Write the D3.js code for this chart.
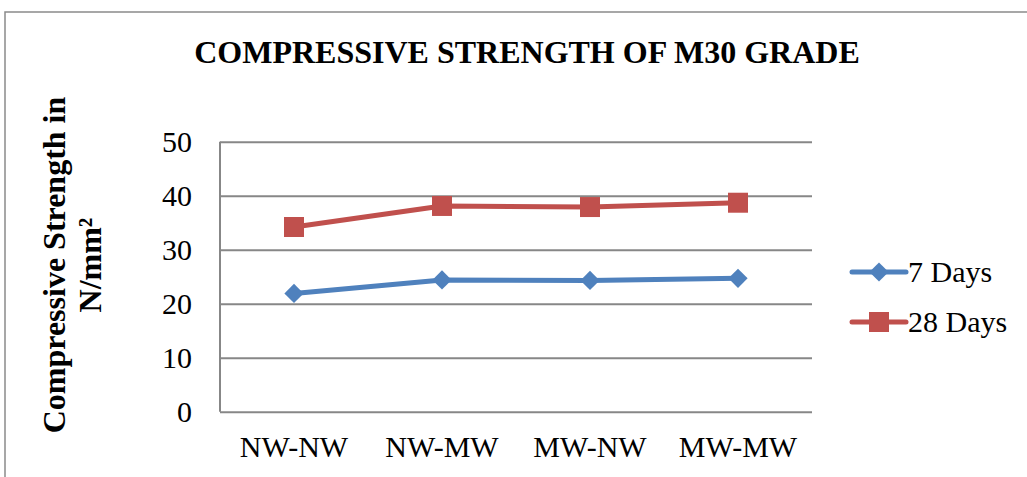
<!DOCTYPE html>
<html>
<head>
<meta charset="utf-8">
<script src="https://cdn.jsdelivr.net/npm/d3@7"></script>
<style>
  html, body { margin: 0; padding: 0; background: #fff; }
  svg { display: block; }
  text { font-family: "Liberation Serif", "Times New Roman", serif; fill: #000; }
</style>
</head>
<body>
<svg id="chart" width="1027" height="477"></svg>
<script>
// Mix combinations tested for M30 grade concrete
const categories = ["NW-NW", "NW-MW", "MW-NW", "MW-MW"];
// Compressive strength (N/mm²)
const days7 = [21.9, 24.4, 24.3, 24.7];
const days28 = [34.2, 38.1, 37.9, 38.7];
const yTicks = [0, 10, 20, 30, 40, 50];
const seriesNames = ["7 Days", "28 Days"];

const svg = d3.select("#chart");
const W = 1027, H = 477;

// outer chart frame
svg.append("rect")
  .attr("x", 5).attr("y", 12)
  .attr("width", W + 10).attr("height", H + 10)
  .attr("fill", "#fff")
  .attr("stroke", "#8a8a8a").attr("stroke-width", 1.5);

const plot = { left: 220, right: 812, top: 141.7, bottom: 411.7 };

const x = d3.scaleBand().domain(categories).range([plot.left, plot.right]);
const y = d3.scaleLinear().domain([0, 50]).range([plot.bottom, plot.top]);
const cx = c => x(c) + x.bandwidth() / 2;

// title
svg.append("text")
  .attr("x", 527).attr("y", 63)
  .attr("text-anchor", "middle")
  .attr("font-size", 32).attr("font-weight", "bold")
  .text("COMPRESSIVE STRENGTH OF M30 GRADE");

// y axis title (two lines)
const yTitle = svg.append("text")
  .attr("transform", "translate(65,265) rotate(-90)")
  .attr("text-anchor", "middle")
  .attr("font-size", 32).attr("font-weight", "bold");
yTitle.append("tspan").attr("x", 0).attr("y", 0).text("Compressive Strength in");
yTitle.append("tspan").attr("x", 0).attr("y", 36).text("N/mm²");

// gridlines + y tick labels
const yAxis = svg.append("g")
  .attr("transform", `translate(${plot.left},0)`)
  .call(d3.axisLeft(y).tickValues(yTicks).tickSize(-(plot.right - plot.left)).tickPadding(28));
yAxis.select(".domain").remove();
yAxis.selectAll(".tick line").attr("stroke", "#878787").attr("stroke-width", 2);
yAxis.selectAll(".tick text").attr("font-size", 30).attr("font-family", "Liberation Serif, serif");

// vertical axis line
svg.append("line")
  .attr("x1", plot.left).attr("x2", plot.left)
  .attr("y1", plot.top).attr("y2", plot.bottom)
  .attr("stroke", "#878787").attr("stroke-width", 2);

// category labels
const xAxis = svg.append("g")
  .attr("transform", `translate(0,${plot.bottom})`)
  .call(d3.axisBottom(x).tickSize(0).tickPadding(24));
xAxis.select(".domain").remove();
xAxis.selectAll(".tick text").attr("font-size", 30).attr("font-family", "Liberation Serif, serif");

const series = [
  { name: seriesNames[0], values: days7, color: "#4F81BD", shape: "diamond" },
  { name: seriesNames[1], values: days28, color: "#C0504D", shape: "square" }
];

const line = d3.line().x((d, i) => cx(categories[i])).y(d => y(d));
const diamond = d3.symbol().type(d3.symbolSquare).size(185);
const square = d3.symbol().type(d3.symbolSquare).size(400);
const markerPath = s => s.shape === "diamond" ? diamond() : square();
const markerRot = s => s.shape === "diamond" ? " rotate(45)" : "";

series.forEach(s => {
  const g = svg.append("g");
  g.append("path")
    .attr("d", line(s.values))
    .attr("fill", "none")
    .attr("stroke", s.color).attr("stroke-width", 5)
    .attr("stroke-linejoin", "round");
  g.selectAll("path.m").data(s.values).enter().append("path")
    .attr("class", "m")
    .attr("d", markerPath(s))
    .attr("transform", (d, i) => `translate(${cx(categories[i])},${y(d)})${markerRot(s)}`)
    .attr("fill", s.color);
});

// legend
const legend = svg.append("g");
series.forEach((s, i) => {
  const ly = 272 + i * 50;
  legend.append("line")
    .attr("x1", 852).attr("x2", 906).attr("y1", ly).attr("y2", ly)
    .attr("stroke", s.color).attr("stroke-width", 5).attr("stroke-linecap", "round");
  legend.append("path")
    .attr("d", markerPath(s))
    .attr("transform", `translate(879,${ly})${markerRot(s)}`)
    .attr("fill", s.color);
  legend.append("text")
    .attr("x", 908).attr("y", ly + 10)
    .attr("font-size", 30)
    .text(s.name);
});
</script>
</body>
</html>
